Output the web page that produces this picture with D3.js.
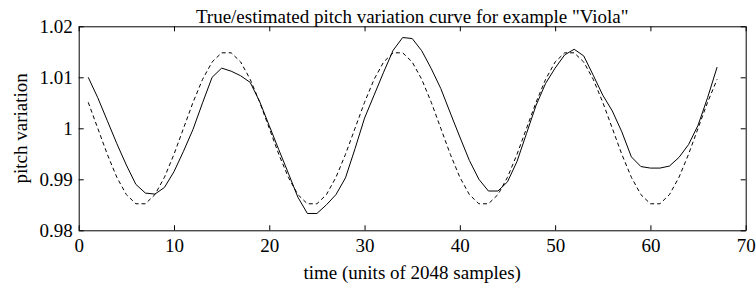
<!DOCTYPE html>
<html>
<head>
<meta charset="utf-8">
<script src="https://cdn.jsdelivr.net/npm/d3@7"></script>
<style>
  body { margin: 0; background: #fff; }
  text { font-family: "Liberation Serif", "DejaVu Serif", serif; fill: #000; }
</style>
</head>
<body>
<script>
var chart = {
  'width': 756,
  'height': 291,
  'left': 78.7,
  'right': 745.7,
  'top': 26.3,
  'bottom': 230.3,
  'fontSize': '19px'
};

// time index (units of 2048 samples)
var times = d3.range(1, 68);

// true pitch variation (dashed)
var truePitch = [
  1.0051, 1.0000, 0.9949, 0.9904, 0.9870, 0.9852, 0.9852, 0.9870, 0.9904, 0.9949,
  1.0000, 1.0051, 1.0096, 1.0130, 1.0148, 1.0148, 1.0130, 1.0096, 1.0051, 1.0000,
  0.9949, 0.9904, 0.9870, 0.9852, 0.9852, 0.9870, 0.9904, 0.9949, 1.0000, 1.0051,
  1.0096, 1.0130, 1.0148, 1.0148, 1.0130, 1.0096, 1.0051, 1.0000, 0.9949, 0.9904,
  0.9870, 0.9852, 0.9852, 0.9870, 0.9904, 0.9949, 1.0000, 1.0051, 1.0096, 1.0130,
  1.0148, 1.0148, 1.0130, 1.0096, 1.0051, 1.0000, 0.9949, 0.9904, 0.9870, 0.9852,
  0.9852, 0.9870, 0.9904, 0.9949, 1.0000, 1.0051, 1.0096
];

// estimated pitch variation (solid)
var estPitch = [
  1.0100, 1.0060, 1.0015, 0.9970, 0.9928, 0.9890, 0.9873, 0.9871, 0.9884, 0.9915,
  0.9955, 0.9998, 1.0050, 1.0100, 1.0118, 1.0112, 1.0103, 1.0090, 1.0052, 1.0005,
  0.9958, 0.9912, 0.9865, 0.9833, 0.9833, 0.9850, 0.9870, 0.9903, 0.9960, 1.0020,
  1.0065, 1.0110, 1.0153, 1.0178, 1.0176, 1.0152, 1.0117, 1.0078, 1.0030, 0.9983,
  0.9937, 0.9900, 0.9877, 0.9877, 0.9895, 0.9935, 0.9990, 1.0045, 1.0088, 1.0118,
  1.0144, 1.0155, 1.0142, 1.0104, 1.0065, 1.0034, 0.9993, 0.9944, 0.9925, 0.9922,
  0.9922, 0.9926, 0.9943, 0.9968, 1.0006, 1.0060, 1.0120
];

var xTicks = [0, 10, 20, 30, 40, 50, 60, 70];
var yTicks = [0.98, 0.99, 1, 1.01, 1.02];
var yTickLabels = ['0.98', '0.99', '1', '1.01', '1.02'];

var svg = d3.select('body').append('svg')
  .attr('width', chart.width)
  .attr('height', chart.height);

var x = d3.scaleLinear().domain([0, 70]).range([chart.left, chart.right]);
var y = d3.scaleLinear().domain([0.98, 1.02]).range([chart.bottom, chart.top]);

var styleAxis = function(g) {
  g.select('.domain').attr('stroke', '#000');
  g.selectAll('.tick line').attr('stroke', '#000');
  g.selectAll('.tick text').style('font-size', chart.fontSize).attr('font-family', null);
};

// box with inward ticks on all four sides
svg.append('g')
  .attr('transform', 'translate(0,' + chart.bottom + ')')
  .call(d3.axisBottom(x).tickValues(xTicks).tickSizeInner(-5).tickSizeOuter(0).tickPadding(8))
  .call(styleAxis);

svg.append('g')
  .attr('transform', 'translate(0,' + chart.top + ')')
  .call(d3.axisTop(x).tickValues(xTicks).tickSizeInner(-5).tickSizeOuter(0).tickFormat(''))
  .call(styleAxis);

svg.append('g')
  .attr('transform', 'translate(' + chart.left + ',0)')
  .call(d3.axisLeft(y).tickValues(yTicks).tickSizeInner(-5).tickSizeOuter(0).tickPadding(6)
    .tickFormat(function(d, i) { return yTickLabels[i]; }))
  .call(styleAxis);

svg.append('g')
  .attr('transform', 'translate(' + chart.right + ',0)')
  .call(d3.axisRight(y).tickValues(yTicks).tickSizeInner(-5).tickSizeOuter(0).tickFormat(''))
  .call(styleAxis);

var line = d3.line()
  .x(function(d) { return x(d[0]); })
  .y(function(d) { return y(d[1]); });

svg.append('path')
  .datum(times.map(function(t, i) { return [t, truePitch[i]]; }))
  .attr('fill', 'none')
  .attr('stroke', '#000')
  .attr('stroke-width', 1)
  .attr('stroke-dasharray', '4,3')
  .attr('d', line);

svg.append('path')
  .datum(times.map(function(t, i) { return [t, estPitch[i]]; }))
  .attr('fill', 'none')
  .attr('stroke', '#000')
  .attr('stroke-width', 1)
  .attr('d', line);

svg.append('text')
  .attr('x', (chart.left + chart.right) / 2)
  .attr('y', 22.5)
  .attr('text-anchor', 'middle')
  .style('font-size', chart.fontSize)
  .text('True/estimated pitch variation curve for example "Viola"');

svg.append('text')
  .attr('x', (chart.left + chart.right) / 2)
  .attr('y', 279)
  .attr('text-anchor', 'middle')
  .style('font-size', chart.fontSize)
  .text('time (units of 2048 samples)');

svg.append('text')
  .attr('transform', 'translate(27,' + ((chart.top + chart.bottom) / 2) + ') rotate(-90)')
  .attr('text-anchor', 'middle')
  .style('font-size', chart.fontSize)
  .text('pitch variation');
</script>
</body>
</html>
